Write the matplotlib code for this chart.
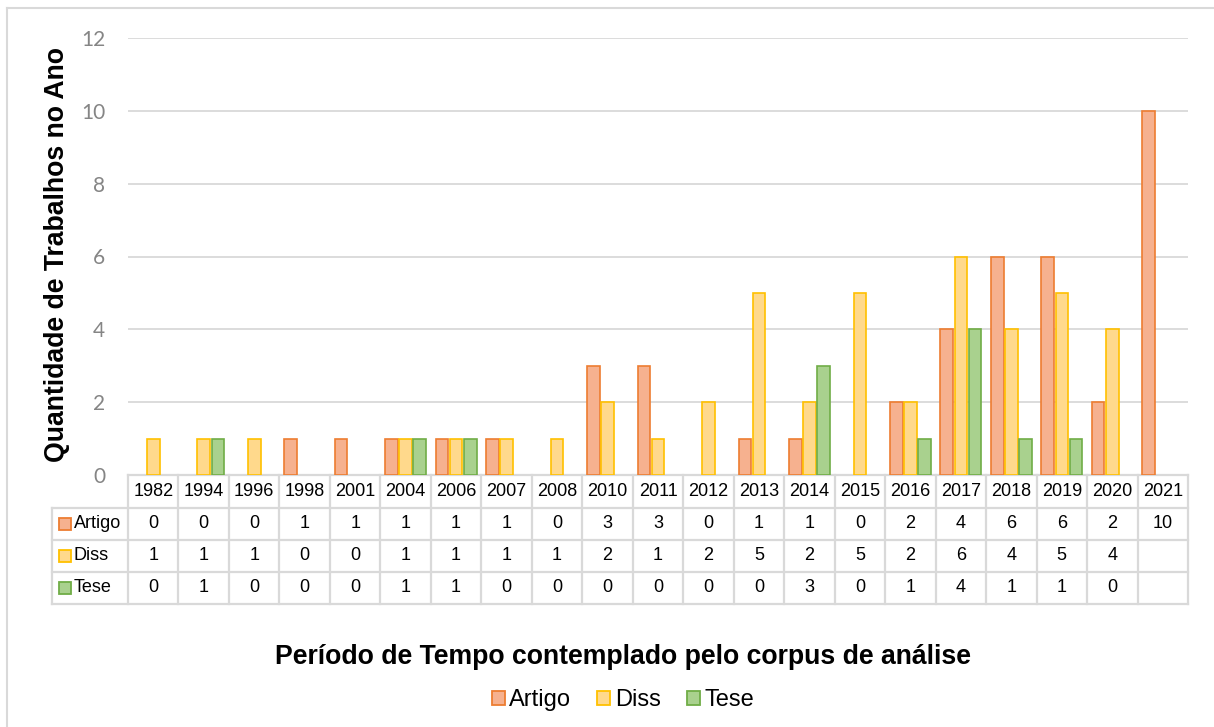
import numpy as np
import matplotlib.pyplot as plt
from matplotlib.patches import Patch
from matplotlib.lines import Line2D
import matplotlib.transforms as mtransforms

# data
anos = ['1982', '1994', '1996', '1998', '2001', '2004', '2006', '2007', '2008', '2010',
        '2011', '2012', '2013', '2014', '2015', '2016', '2017', '2018', '2019', '2020', '2021']
artigo = [0, 0, 0, 1, 1, 1, 1, 1, 0, 3, 3, 0, 1, 1, 0, 2, 4, 6, 6, 2, 10]
diss = [1, 1, 1, 0, 0, 1, 1, 1, 1, 2, 1, 2, 5, 2, 5, 2, 6, 4, 5, 4, np.nan]
tese = [0, 1, 0, 0, 0, 1, 1, 0, 0, 0, 0, 0, 0, 3, 0, 1, 4, 1, 1, 0, np.nan]

series = [('Artigo', artigo, '#F6B18F', '#ED7D31'),
          ('Diss', diss, '#FFD98C', '#FFC000'),
          ('Tese', tese, '#A9D18E', '#70AD47')]

W, H = 1214, 727
fig = plt.figure(figsize=(W / 100, H / 100), dpi=100)
ax = fig.add_axes([128 / W, 1 - 475 / H, (1188 - 128) / W, (475 - 38) / H])

x = np.arange(len(anos))
offsets = [-0.28, 0.0, 0.28]
for (nome, vals, fc, ec), off in zip(series, offsets):
    v = np.array(vals, dtype=float)
    v[v == 0] = np.nan   # zero bars are not drawn
    ax.bar(x + off, v, width=0.25, color=fc, edgecolor=ec, linewidth=1.2, zorder=3)

ax.set_xlim(-0.5, len(anos) - 0.5)
ax.set_ylim(0, 12)
ax.set_yticks(range(0, 13, 2))
ax.grid(axis='y', color='#D9D9D9', linewidth=1.3, zorder=0)
for s in ax.spines.values():
    s.set_visible(False)
ax.tick_params(axis='y', length=0, pad=16.5, labelsize=15, labelcolor='#858585')
ax.tick_params(axis='x', length=0, labelbottom=False)
for lab in ax.get_yticklabels():
    lab.set_family(['Lato', 'DejaVu Sans'])

# data table under the axis
tr = mtransforms.blended_transform_factory(ax.transData, ax.transAxes)
ah = 475 - 38
row_y = [0, -(508 - 475) / ah, -(540 - 475) / ah, -(572 - 475) / ah, -(604 - 475) / ah]
lc = '#D9D9D9'
lw = 1.6
n = len(anos)
tfont = ['Liberation Sans Narrow', 'Liberation Sans', 'DejaVu Sans']
tsize = 13

def hline(x0, x1, y):
    ax.add_line(Line2D([x0, x1], [y, y], transform=tr, color=lc, lw=lw, clip_on=False, zorder=1))

def vline(xx, y0, y1):
    ax.add_line(Line2D([xx, xx], [y0, y1], transform=tr, color=lc, lw=lw, clip_on=False, zorder=1))

label_left = -0.5 - 76 / 50.5
hline(-0.5, n - 0.5, row_y[0])
for y in row_y[1:]:
    hline(label_left, n - 0.5, y)
for i in range(n + 1):
    vline(i - 0.5, row_y[0], row_y[-1])
vline(label_left, row_y[1], row_y[-1])

for i, ano in enumerate(anos):
    ax.text(i, (row_y[0] + row_y[1]) / 2, ano, transform=tr, ha='center', va='center',
            fontsize=tsize, family=tfont)

for r, (nome, vals, fc, ec) in enumerate(series):
    yc = (row_y[r + 1] + row_y[r + 2]) / 2
    for i, v in enumerate(vals):
        if not np.isnan(v):
            ax.text(i, yc, str(int(v)), transform=tr, ha='center', va='center',
                    fontsize=tsize, family=tfont)
    ax.plot([label_left + 0.25], [yc], transform=tr, marker='s', markersize=8.5,
            markerfacecolor=fc, markeredgecolor=ec, markeredgewidth=1.3, clip_on=False)
    ax.text(label_left + 0.43, yc, nome, transform=tr, ha='left', va='center',
            fontsize=tsize, family=tfont)

# axis titles
fig.text(57 / W, 1 - 255 / H, 'Quantidade de Trabalhos no Ano', rotation=90,
         ha='center', va='center', fontsize=19.2, fontweight='bold', family='Liberation Sans')
fig.text(623 / W, 1 - 657 / H, 'Período de Tempo contemplado pelo corpus de análise',
         ha='center', va='center', fontsize=19.2, fontweight='bold', family='Liberation Sans')

handles = [Patch(facecolor=fc, edgecolor=ec, linewidth=1.3, label=nome)
           for nome, vals, fc, ec in series]
fig.legend(handles=handles, loc='center', bbox_to_anchor=(623 / W, 1 - 700 / H), ncol=3,
           frameon=False, prop={'family': 'Liberation Sans', 'size': 17},
           handlelength=0.55, handleheight=0.55, handletextpad=0.2, columnspacing=1.1)

# outer chart border (left and top visible)
fig.add_artist(Line2D([7 / W, 7 / W], [0, 1 - 8 / H], color='#D9D9D9', lw=1.5))
fig.add_artist(Line2D([7 / W, 1], [1 - 8 / H, 1 - 8 / H], color='#D9D9D9', lw=1.5))

fig.savefig('out.png', dpi=100)
